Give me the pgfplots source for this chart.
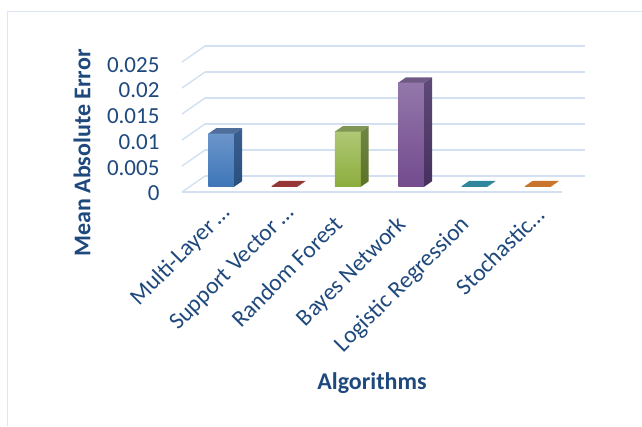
\documentclass[border=0pt]{standalone}
\usepackage{pgfplots}
\pgfplotsset{compat=1.18}
\usepackage{fontspec}
\setmainfont{Carlito}
\definecolor{textblue}{HTML}{1F497D}
\definecolor{gridblue}{HTML}{D3E0F2}
\definecolor{frameblue}{HTML}{DCE6F4}
% Face colours of the columns: front top, front bottom, side top, side bottom, top
\definecolor{blueA}{HTML}{6C95CA}\definecolor{blueB}{HTML}{3D76B8}\definecolor{blueC}{HTML}{3A5F8E}\definecolor{blueD}{HTML}{28507F}\definecolor{blueE}{HTML}{4F6E9B}
\definecolor{greenA}{HTML}{AEC874}\definecolor{greenB}{HTML}{8DAD3E}\definecolor{greenC}{HTML}{708545}\definecolor{greenD}{HTML}{5B7228}\definecolor{greenE}{HTML}{7F9655}
\definecolor{violetA}{HTML}{9377AA}\definecolor{violetB}{HTML}{734B8E}\definecolor{violetC}{HTML}{5E4A78}\definecolor{violetD}{HTML}{46305E}\definecolor{violetE}{HTML}{6F5A85}
\definecolor{flatred}{HTML}{953735}
\definecolor{flatteal}{HTML}{31859C}
\definecolor{flatorange}{HTML}{C8742A}
% Draws one solid column: front, side and top faces.
% #1 left x, #2 right x, #3 value, #4 front top colour, #5 front bottom colour,
% #6 side top, #7 side bottom, #8 top face
\newcommand{\solidbar}[8]{%
  \addplot3[draw=none,top color=#4,bottom color=#5,no marks] coordinates
    {(#1,0.33,0) (#2,0.33,0) (#2,0.33,#3) (#1,0.33,#3)} --cycle;
  \addplot3[draw=none,top color=#6,bottom color=#7,no marks] coordinates
    {(#2,0.33,0) (#2,0.67,0) (#2,0.67,#3) (#2,0.33,#3)} --cycle;
  \addplot3[draw=none,fill=#8,no marks] coordinates
    {(#1,0.33,#3) (#2,0.33,#3) (#2,0.67,#3) (#1,0.67,#3)} --cycle;
}
% Shortened category names sit a little further along their baseline
\newcommand{\cutname}[2][-15pt]{\raisebox{-2pt}{#2\hspace{#1}}}
\begin{document}
\begin{tikzpicture}[x=1pt,y=1pt]
\path[use as bounding box] (0,0) rectangle (642,426);
\draw[frameblue,line width=1pt] (7,0) -- (7,414) -- (642,414);
\begin{axis}[
  at={(182pt,234pt)},anchor=origin,
  x={(63.33pt,0pt)},y={(23pt,16pt)},z={(0pt,5200pt)},
  xmin=0,xmax=6,ymin=0,ymax=1,zmin=0,zmax=0.025,
  clip=false,
  axis line style={draw=none},
  tick style={draw=none},
  zmajorgrids=true,xmajorgrids=false,ymajorgrids=false,
  grid style={gridblue,line width=1.4pt},
  xtick={0.5,1.5,2.5,3.5,4.5,5.5},
  ytick=\empty,
  ztick={0,0.005,0.01,0.015,0.02,0.025},
  zticklabels={\raisebox{-8pt}{0},\raisebox{-9pt}{0.005},\raisebox{-9.7pt}{0.01},\raisebox{-9.7pt}{0.015},\raisebox{-9.4pt}{0.02},\raisebox{-10.7pt}{0.025}},
  scaled z ticks=false,
  xticklabels={\cutname[-18pt]{Multi-Layer\,…},\cutname[-18pt]{Support Vector\,…},Random Forest,Bayes Network,Logistic Regression,\cutname{Stochastic…}},
  tick label style={font=\fontsize{23}{23}\selectfont,text=textblue},
  x tick label style={font=\fontsize{23.6}{23.6}\selectfont,rotate=45,anchor=base east,xshift=-17.8pt,yshift=-26.4pt},
  z tick label style={anchor=base east,xshift=-19pt},
  xticklabel pos=lower,
  xlabel={\bfseries Algorithms},
  xlabel style={at={(axis cs:3,0,0)},anchor=center,yshift=-191pt,font=\fontsize{24}{24}\selectfont,text=textblue},
  zlabel={\bfseries Mean Absolute Error},
  zlabel style={at={(axis cs:0,0,0.0075)},anchor=center,rotate=0,yshift=100pt,font=\fontsize{24}{24}\selectfont,text=textblue},
]
\addplot3[gridblue,line width=1.4pt,no marks] coordinates {(0,0,0) (6,0,0)};
\solidbar{0.295}{0.705}{0.0102}{blueA}{blueB}{blueC}{blueD}{blueE}
\solidbar{1.295}{1.705}{0.0001}{flatred}{flatred}{flatred}{flatred}{flatred}
\solidbar{2.295}{2.705}{0.0106}{greenA}{greenB}{greenC}{greenD}{greenE}
\solidbar{3.295}{3.705}{0.0200}{violetA}{violetB}{violetC}{violetD}{violetE}
\solidbar{4.295}{4.705}{0.0001}{flatteal}{flatteal}{flatteal}{flatteal}{flatteal}
\solidbar{5.295}{5.705}{0.0001}{flatorange}{flatorange}{flatorange}{flatorange}{flatorange}
\end{axis}
\end{tikzpicture}
\end{document}
